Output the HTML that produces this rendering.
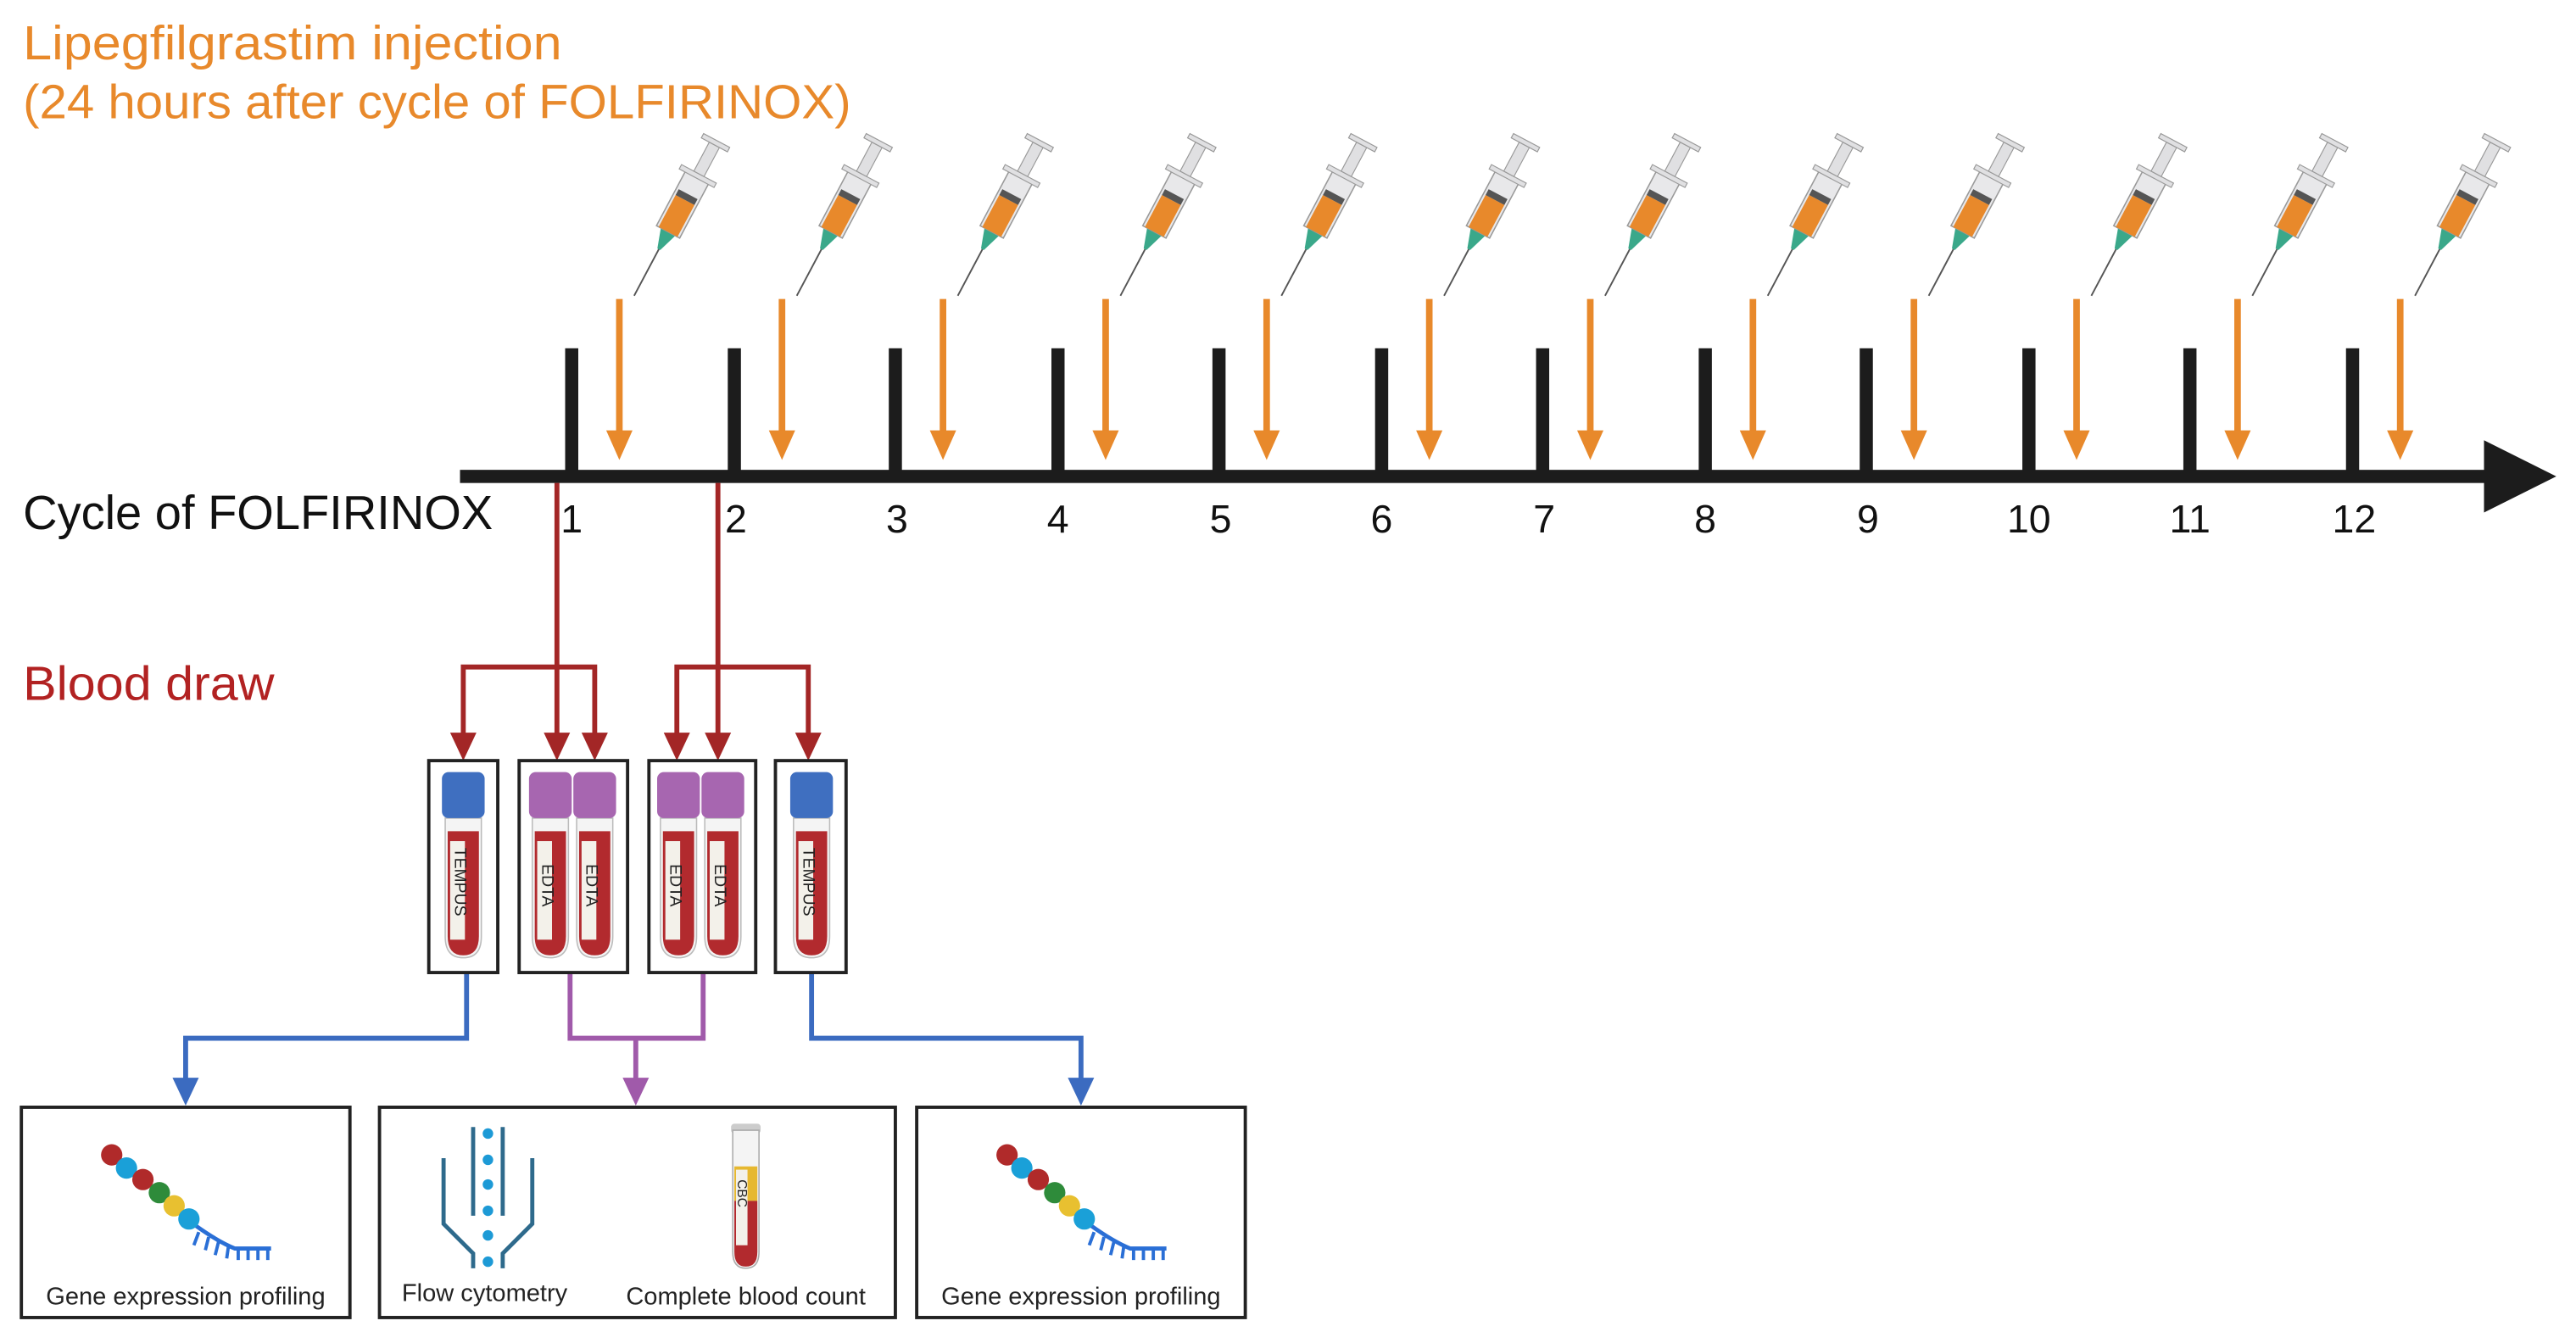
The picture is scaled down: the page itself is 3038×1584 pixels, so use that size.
<!DOCTYPE html>
<html><head><meta charset="utf-8"><style>
html,body{margin:0;padding:0;background:#fff;}
svg{display:block;}
text{font-family:"Liberation Sans",sans-serif;}
</style></head><body>
<svg width="3038" height="1584" viewBox="0 0 1568 817.5" preserveAspectRatio="none" xmlns="http://www.w3.org/2000/svg">
<defs>
<g id="syr">
  <line x1="0" y1="0" x2="0" y2="-34" stroke="#555" stroke-width="1"/>
  <polygon points="-1,-32 1,-32 5,-44 -5,-44" fill="#3aa88a"/>
  <rect x="-8" y="-82" width="16" height="38" fill="#e8e8ea" stroke="#999" stroke-width="0.8"/>
  <rect x="-6.5" y="-66" width="13" height="22" fill="#e8892b"/>
  <rect x="-6.5" y="-70" width="13" height="4" fill="#555"/>
  <rect x="-12" y="-84" width="24" height="3" fill="#e0e0e2" stroke="#999" stroke-width="0.6"/>
  <rect x="-3.5" y="-104" width="7" height="20" fill="#e0e0e2" stroke="#999" stroke-width="0.6"/>
  <rect x="-9" y="-107" width="18" height="3" fill="#e0e0e2" stroke="#999" stroke-width="0.6"/>
</g>
<g id="tubeglass">
  <path d="M2,28 L24,28 L24,100 Q24,113 13,113 Q2,113 2,100 Z" fill="#f4f4f4" stroke="#bbb" stroke-width="0.8"/>
  <path d="M3.5,36 L22.5,36 L22.5,100 Q22.5,111.5 13,111.5 Q3.5,111.5 3.5,100 Z" fill="#b22a2e"/>
  <rect x="5" y="42" width="9" height="60" fill="#f3f1ea"/>
</g>
<g id="dna">
  <path d="M56,48 Q70,58 80,62 L102,62" fill="none" stroke="#2a6fd6" stroke-width="2.5"/>
  <g stroke="#2a6fd6" stroke-width="2">
    <line x1="58" y1="52" x2="55" y2="60"/><line x1="64" y1="55" x2="62" y2="63"/><line x1="70" y1="58" x2="68" y2="66"/><line x1="76" y1="61" x2="75" y2="68"/><line x1="82" y1="62" x2="82" y2="69"/><line x1="88" y1="62" x2="88" y2="69"/><line x1="94" y1="62" x2="94" y2="69"/><line x1="100" y1="62" x2="100" y2="69"/>
  </g>
  <circle cx="5" cy="5" r="6.5" fill="#b02a2a"/>
  <circle cx="14" cy="13" r="6.5" fill="#1aa0d8"/>
  <circle cx="24" cy="20" r="6.5" fill="#b02a2a"/>
  <circle cx="34" cy="28" r="6.5" fill="#2e8b3a"/>
  <circle cx="43" cy="36" r="6.5" fill="#e8c030"/>
  <circle cx="52" cy="44" r="6.5" fill="#1aa0d8"/>
</g>
</defs>

<!-- Titles -->
<text x="14" y="36" font-size="29" fill="#e8892b" textLength="328" lengthAdjust="spacingAndGlyphs">Lipegfilgrastim injection</text>
<text x="14" y="72" font-size="29" fill="#e8892b" textLength="504" lengthAdjust="spacingAndGlyphs">(24 hours after cycle of FOLFIRINOX)</text>
<text x="14" y="322" font-size="29" fill="#111" textLength="286" lengthAdjust="spacingAndGlyphs">Cycle of FOLFIRINOX</text>
<text x="14" y="426" font-size="29" fill="#b22222" textLength="153" lengthAdjust="spacingAndGlyphs">Blood draw</text>

<!-- Timeline -->
<rect x="280" y="286" width="1235" height="8" fill="#1c1c1c"/>
<polygon points="1512,268 1556,290 1512,312" fill="#1c1c1c"/>
<g fill="#1c1c1c">
<rect x="344" y="212" width="8" height="78"/><rect x="443" y="212" width="8" height="78"/><rect x="541" y="212" width="8" height="78"/><rect x="640" y="212" width="8" height="78"/><rect x="738" y="212" width="8" height="78"/><rect x="837" y="212" width="8" height="78"/><rect x="935" y="212" width="8" height="78"/><rect x="1034" y="212" width="8" height="78"/><rect x="1132" y="212" width="8" height="78"/><rect x="1231" y="212" width="8" height="78"/><rect x="1329" y="212" width="8" height="78"/><rect x="1428" y="212" width="8" height="78"/>
</g>
<g font-size="24" fill="#111" text-anchor="middle">
<text x="348" y="324">1</text><text x="448" y="324">2</text><text x="546" y="324">3</text><text x="644" y="324">4</text><text x="743" y="324">5</text><text x="841" y="324">6</text><text x="940" y="324">7</text><text x="1038" y="324">8</text><text x="1137" y="324">9</text><text x="1235" y="324">10</text><text x="1333" y="324">11</text><text x="1433" y="324">12</text>
</g>

<!-- Orange arrows and syringes -->
<g>
<g transform="translate(377,0)"><rect x="-2" y="182" width="4" height="82" fill="#e8892b"/><polygon points="-8,262 8,262 0,280" fill="#e8892b"/><use href="#syr" transform="translate(9,180) rotate(28)"/></g>
<g transform="translate(476,0)"><rect x="-2" y="182" width="4" height="82" fill="#e8892b"/><polygon points="-8,262 8,262 0,280" fill="#e8892b"/><use href="#syr" transform="translate(9,180) rotate(28)"/></g>
<g transform="translate(574,0)"><rect x="-2" y="182" width="4" height="82" fill="#e8892b"/><polygon points="-8,262 8,262 0,280" fill="#e8892b"/><use href="#syr" transform="translate(9,180) rotate(28)"/></g>
<g transform="translate(673,0)"><rect x="-2" y="182" width="4" height="82" fill="#e8892b"/><polygon points="-8,262 8,262 0,280" fill="#e8892b"/><use href="#syr" transform="translate(9,180) rotate(28)"/></g>
<g transform="translate(771,0)"><rect x="-2" y="182" width="4" height="82" fill="#e8892b"/><polygon points="-8,262 8,262 0,280" fill="#e8892b"/><use href="#syr" transform="translate(9,180) rotate(28)"/></g>
<g transform="translate(870,0)"><rect x="-2" y="182" width="4" height="82" fill="#e8892b"/><polygon points="-8,262 8,262 0,280" fill="#e8892b"/><use href="#syr" transform="translate(9,180) rotate(28)"/></g>
<g transform="translate(968,0)"><rect x="-2" y="182" width="4" height="82" fill="#e8892b"/><polygon points="-8,262 8,262 0,280" fill="#e8892b"/><use href="#syr" transform="translate(9,180) rotate(28)"/></g>
<g transform="translate(1067,0)"><rect x="-2" y="182" width="4" height="82" fill="#e8892b"/><polygon points="-8,262 8,262 0,280" fill="#e8892b"/><use href="#syr" transform="translate(9,180) rotate(28)"/></g>
<g transform="translate(1165,0)"><rect x="-2" y="182" width="4" height="82" fill="#e8892b"/><polygon points="-8,262 8,262 0,280" fill="#e8892b"/><use href="#syr" transform="translate(9,180) rotate(28)"/></g>
<g transform="translate(1264,0)"><rect x="-2" y="182" width="4" height="82" fill="#e8892b"/><polygon points="-8,262 8,262 0,280" fill="#e8892b"/><use href="#syr" transform="translate(9,180) rotate(28)"/></g>
<g transform="translate(1362,0)"><rect x="-2" y="182" width="4" height="82" fill="#e8892b"/><polygon points="-8,262 8,262 0,280" fill="#e8892b"/><use href="#syr" transform="translate(9,180) rotate(28)"/></g>
<g transform="translate(1461,0)"><rect x="-2" y="182" width="4" height="82" fill="#e8892b"/><polygon points="-8,262 8,262 0,280" fill="#e8892b"/><use href="#syr" transform="translate(9,180) rotate(28)"/></g>
</g>

<!-- Red blood draw connectors -->
<g stroke="#a32626" stroke-width="3" fill="none">
<path d="M339,294 V448"/><path d="M282,448 V406 H362 V448"/>
<path d="M437,294 V448"/><path d="M412,448 V406 H492 V448"/>
</g>
<g fill="#a32626">
<polygon points="274,446 290,446 282,463"/><polygon points="331,446 347,446 339,463"/><polygon points="354,446 370,446 362,463"/>
<polygon points="404,446 420,446 412,463"/><polygon points="429,446 445,446 437,463"/><polygon points="484,446 500,446 492,463"/>
</g>

<!-- Tube boxes -->
<g fill="none" stroke="#222" stroke-width="2">
<rect x="261" y="463" width="42" height="129"/>
<rect x="316" y="463" width="66" height="129"/>
<rect x="395" y="463" width="65" height="129"/>
<rect x="472" y="463" width="43" height="129"/>
</g>
<g transform="translate(269,470)"><use href="#tubeglass"/><rect x="0" y="0" width="26" height="28" rx="4" fill="#3f6fc0"/><text transform="translate(8,46) rotate(90)" font-size="10" fill="#222">TEMPUS</text></g>
<g transform="translate(322,470)"><use href="#tubeglass"/><rect x="0" y="0" width="26" height="28" rx="4" fill="#a766b0"/><text transform="translate(8,56) rotate(90)" font-size="10" fill="#222">EDTA</text></g>
<g transform="translate(349,470)"><use href="#tubeglass"/><rect x="0" y="0" width="26" height="28" rx="4" fill="#a766b0"/><text transform="translate(8,56) rotate(90)" font-size="10" fill="#222">EDTA</text></g>
<g transform="translate(400,470)"><use href="#tubeglass"/><rect x="0" y="0" width="26" height="28" rx="4" fill="#a766b0"/><text transform="translate(8,56) rotate(90)" font-size="10" fill="#222">EDTA</text></g>
<g transform="translate(427,470)"><use href="#tubeglass"/><rect x="0" y="0" width="26" height="28" rx="4" fill="#a766b0"/><text transform="translate(8,56) rotate(90)" font-size="10" fill="#222">EDTA</text></g>
<g transform="translate(481,470)"><use href="#tubeglass"/><rect x="0" y="0" width="26" height="28" rx="4" fill="#3f6fc0"/><text transform="translate(8,46) rotate(90)" font-size="10" fill="#222">TEMPUS</text></g>

<!-- Bottom connectors -->
<g fill="none" stroke-width="3">
<path d="M284,593 V632 H113 V658" stroke="#3b6bc0"/>
<path d="M494,593 V632 H658 V658" stroke="#3b6bc0"/>
<path d="M347,593 V632 H428 V593 M387,632 V658" stroke="#a05aaa"/>
</g>
<polygon points="105,656 121,656 113,673" fill="#3b6bc0"/>
<polygon points="650,656 666,656 658,673" fill="#3b6bc0"/>
<polygon points="379,656 395,656 387,673" fill="#a05aaa"/>

<!-- Bottom boxes -->
<g fill="none" stroke="#222" stroke-width="2">
<rect x="13" y="674" width="200" height="128"/>
<rect x="231" y="674" width="314" height="128"/>
<rect x="558" y="674" width="200" height="128"/>
</g>
<use href="#dna" transform="translate(63,698)"/>
<use href="#dna" transform="translate(608,698)"/>
<!-- flow cytometry -->
<g stroke="#2e6a8c" stroke-width="2.5" fill="none">
<path d="M270,705 V745 L288,763 V772"/>
<path d="M324,705 V745 L306,763 V772"/>
<path d="M288,686 V740"/><path d="M306,686 V740"/>
</g>
<g fill="#1d9ad6">
<circle cx="297" cy="690" r="3.2"/><circle cx="297" cy="706" r="3.2"/><circle cx="297" cy="721" r="3.2"/><circle cx="297" cy="737" r="3.2"/><circle cx="297" cy="752" r="3.2"/><circle cx="297" cy="768" r="3.2"/>
</g>
<!-- CBC tube -->
<g transform="translate(445,684)">
<rect x="0" y="0" width="18" height="6" rx="2" fill="#ccc"/>
<path d="M1,4 L17,4 L17,78 Q17,88 9,88 Q1,88 1,78 Z" fill="#f4f4f4" stroke="#aaa" stroke-width="0.8"/>
<rect x="2" y="26" width="14" height="21" fill="#e6b830"/>
<path d="M2,47 L16,47 L16,78 Q16,87 9,87 Q2,87 2,78 Z" fill="#b22a2e"/>
<rect x="3" y="28" width="7" height="46" fill="#f3f1ea"/>
<text transform="translate(4,34) rotate(90)" font-size="8" fill="#222">CBC</text>
</g>
<g font-size="15" fill="#222" text-anchor="middle">
<text x="113" y="794">Gene expression profiling</text>
<text x="295" y="792">Flow cytometry</text>
<text x="454" y="794">Complete blood count</text>
<text x="658" y="794">Gene expression profiling</text>
</g>
</svg>
</body></html>
